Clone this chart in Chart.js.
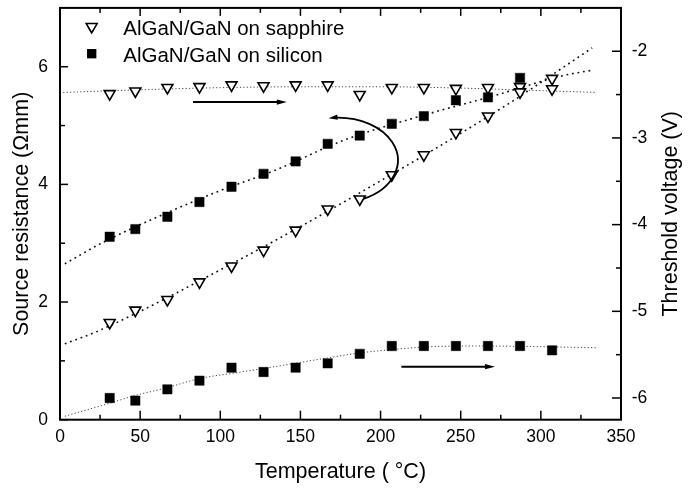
<!DOCTYPE html>
<html>
<head>
<meta charset="utf-8">
<script src="https://cdn.jsdelivr.net/npm/chart.js@4.4.1/dist/chart.umd.min.js"></script>
<style>
html,body{margin:0;padding:0;background:#fff;}
canvas{display:block;}
</style>
</head>
<body>
<canvas id="c" width="698" height="489"></canvas>
<script>
// ---- data ----
const temperatures = [31, 47, 67, 87, 107, 127, 147, 167, 187, 207, 227, 247, 267, 287, 307];
const sapphireRs   = [1.65, 1.86, 2.04, 2.34, 2.61, 2.88, 3.22, 3.58, 3.75, 4.16, 4.50, 4.88, 5.16, 5.57, 5.80];
const siliconRs    = [3.11, 3.24, 3.45, 3.70, 3.96, 4.18, 4.39, 4.69, 4.83, 5.03, 5.16, 5.43, 5.48, 5.81, null];
const sapphireVth  = [-2.49, -2.46, -2.42, -2.41, -2.39, -2.40, -2.39, -2.39, -2.50, -2.42, -2.42, -2.43, -2.42, -2.41, -2.435];
const siliconVth   = [-6.00, -6.03, -5.90, -5.80, -5.65, -5.70, -5.65, -5.60, -5.49, -5.40, -5.40, -5.40, -5.40, -5.40, -5.45];

// fitted (dotted) curves, read at a few temperatures
const sapphireRsFitT  = [3, 24, 112, 179, 278, 332];
const sapphireRsFit   = [1.29, 1.51, 2.72, 3.73, 5.34, 6.32];
const siliconRsFitT   = [3, 28, 95, 136, 177, 230, 270, 314, 332];
const siliconRsFit    = [2.65, 3.03, 3.84, 4.26, 4.75, 5.20, 5.50, 5.85, 5.94];
const sapphireVthFitT = [2, 50, 100, 150, 200, 250, 300, 335];
const sapphireVthFit  = [-2.475, -2.445, -2.42, -2.41, -2.41, -2.425, -2.455, -2.475];
const siliconVthFitT  = [3, 31, 47, 67, 86, 113, 140, 166, 187, 208, 229, 260, 290, 335];
const siliconVthFit   = [-6.21, -6.06, -5.97, -5.88, -5.78, -5.70, -5.62, -5.54, -5.48, -5.44, -5.41, -5.40, -5.405, -5.42];

// ticks
const xTicks = [0, 50, 100, 150, 200, 250, 300, 350];
const xMinorTicks = [25, 75, 125, 175, 225, 275, 325];
const rsTicks = [0, 2, 4, 6];
const rsMinorTicks = [1, 3, 5];
const vthTicks = [-6, -5, -4, -3, -2];
const vthMinorTicks = [-5.5, -4.5, -3.5, -2.5];

// text
const legendLabels = ['AlGaN/GaN on sapphire', 'AlGaN/GaN on silicon'];
const xTitle = 'Temperature ( \u00B0C)';
const rsTitle = 'Source resistance (\u03A9mm)';
const vthTitle = 'Threshold voltage (V)';

// arrows (data coordinates)
const arrowSapphireT = [83, 141.5];
const arrowSapphireV = -2.586;
const arrowSiliconT = [213, 271.4];
const arrowSiliconV = -5.638;
const curvedArrowCenter = [173.4, 4.41];   // (T, Rs)
const curvedArrowRadii = [37.4, 0.725];    // (T, Rs)

// ---- build chart ----
const FONT = "'Liberation Sans', Arial, Helvetica, sans-serif";
const pts = (xs, ys) => xs.map((x, i) => ({x: x, y: ys[i]})).filter(p => p.y !== null);

const markerTri = {
  showLine: false, pointStyle: 'triangle', pointRotation: 180, pointRadius: 6.3,
  pointBackgroundColor: '#fff', pointBorderColor: '#000', pointBorderWidth: 1.6, order: 0
};
const markerSq = {
  showLine: false, pointStyle: 'rect', pointRadius: 6.6,
  pointBackgroundColor: '#000', pointBorderColor: '#000', pointBorderWidth: 0.5, order: 0
};
const fitRs = { pointRadius: 0, borderColor: '#111', borderWidth: 1.6, borderDash: [1.8, 3.8], cubicInterpolationMode: 'monotone', fill: false, order: 1 };
const fitV  = { pointRadius: 0, borderColor: '#444', borderWidth: 1, borderDash: [1.2, 2.2], cubicInterpolationMode: 'monotone', fill: false, order: 1 };

const datasets = [
  Object.assign({label: legendLabels[0] + ' Rs', data: pts(temperatures, sapphireRs), yAxisID: 'yR'}, markerTri),
  Object.assign({label: legendLabels[1] + ' Rs', data: pts(temperatures, siliconRs), yAxisID: 'yR'}, markerSq),
  Object.assign({label: legendLabels[0] + ' Vth', data: pts(temperatures, sapphireVth), yAxisID: 'yV'}, markerTri),
  Object.assign({label: legendLabels[1] + ' Vth', data: pts(temperatures, siliconVth), yAxisID: 'yV'}, markerSq),
  Object.assign({label: 'fit1', data: pts(sapphireRsFitT, sapphireRsFit), yAxisID: 'yR'}, fitRs),
  Object.assign({label: 'fit2', data: pts(siliconRsFitT, siliconRsFit), yAxisID: 'yR'}, fitRs),
  Object.assign({label: 'fit3', data: pts(sapphireVthFitT, sapphireVthFit), yAxisID: 'yV'}, fitV),
  Object.assign({label: 'fit4', data: pts(siliconVthFitT, siliconVthFit), yAxisID: 'yV'}, fitV)
];

function zeroPad(s) { s.paddingLeft = 0; s.paddingRight = 0; s.paddingTop = 0; s.paddingBottom = 0; }

function line(ctx, x1, y1, x2, y2) { ctx.beginPath(); ctx.moveTo(x1, y1); ctx.lineTo(x2, y2); ctx.stroke(); }
function head(ctx, x, y, ang, len, hw) {
  ctx.beginPath();
  ctx.moveTo(x, y);
  ctx.lineTo(x - len * Math.cos(ang) + hw * Math.sin(ang), y - len * Math.sin(ang) - hw * Math.cos(ang));
  ctx.lineTo(x - len * Math.cos(ang) - hw * Math.sin(ang), y - len * Math.sin(ang) + hw * Math.cos(ang));
  ctx.closePath();
  ctx.fill();
}

const decor = {
  id: 'decor',
  afterDraw(chart) {
    const ctx = chart.ctx, a = chart.chartArea;
    const sx = chart.scales.x, sR = chart.scales.yR, sV = chart.scales.yV;
    ctx.save();
    ctx.strokeStyle = '#000'; ctx.fillStyle = '#000';
    // frame
    ctx.lineWidth = 2;
    ctx.strokeRect(a.left, a.top, a.right - a.left, a.bottom - a.top);
    // inward ticks
    ctx.lineWidth = 1.5;
    xTicks.forEach(v => { const p = sx.getPixelForValue(v); line(ctx, p, a.bottom, p, a.bottom - 9); line(ctx, p, a.top, p, a.top + 8); });
    xMinorTicks.forEach(v => { const p = sx.getPixelForValue(v); line(ctx, p, a.bottom, p, a.bottom - 5); line(ctx, p, a.top, p, a.top + 5); });
    rsTicks.forEach(v => { const p = sR.getPixelForValue(v); line(ctx, a.left, p, a.left + 8, p); });
    rsMinorTicks.forEach(v => { const p = sR.getPixelForValue(v); line(ctx, a.left, p, a.left + 5, p); });
    vthTicks.forEach(v => { const p = sV.getPixelForValue(v); line(ctx, a.right, p, a.right - 9, p); });
    vthMinorTicks.forEach(v => { const p = sV.getPixelForValue(v); line(ctx, a.right, p, a.right - 5, p); });

    // straight arrows
    ctx.lineWidth = 2;
    let y = sV.getPixelForValue(arrowSapphireV);
    let x1 = sx.getPixelForValue(arrowSapphireT[0]), x2 = sx.getPixelForValue(arrowSapphireT[1]);
    line(ctx, x1, y, x2 - 6, y); head(ctx, x2, y, 0, 10, 2.6);
    y = sV.getPixelForValue(arrowSiliconV);
    x1 = sx.getPixelForValue(arrowSiliconT[0]); x2 = sx.getPixelForValue(arrowSiliconT[1]);
    line(ctx, x1, y, x2 - 6, y); head(ctx, x2, y, 0, 10, 2.6);

    // curved arrow
    const cx = sx.getPixelForValue(curvedArrowCenter[0]);
    const cy = sR.getPixelForValue(curvedArrowCenter[1]);
    const rx = Math.abs(sx.getPixelForValue(curvedArrowCenter[0] + curvedArrowRadii[0]) - cx);
    const ry = Math.abs(sR.getPixelForValue(curvedArrowCenter[1] + curvedArrowRadii[1]) - cy);
    const a0 = 65 * Math.PI / 180, a1 = -92 * Math.PI / 180, aTip = -99 * Math.PI / 180;
    ctx.lineWidth = 1.8;
    ctx.beginPath(); ctx.ellipse(cx, cy, rx, ry, 0, a0, a1, true); ctx.stroke();
    const tx = cx + rx * Math.cos(aTip), ty = cy + ry * Math.sin(aTip);
    const dx = rx * Math.sin(aTip), dy = -ry * Math.cos(aTip);
    head(ctx, tx, ty, Math.atan2(dy, dx), 9, 2.6);

    // legend
    const lx = a.left + 31.7, ly1 = a.top + 18.8, ly2 = a.top + 45.8, r = 6.3;
    ctx.lineWidth = 1.6; ctx.fillStyle = '#fff';
    ctx.beginPath();
    ctx.moveTo(lx, ly1 + r);
    ctx.lineTo(lx - 0.866 * r, ly1 - 0.5 * r);
    ctx.lineTo(lx + 0.866 * r, ly1 - 0.5 * r);
    ctx.closePath(); ctx.fill(); ctx.stroke();
    ctx.fillStyle = '#000';
    const s = 6.6 * Math.SQRT1_2;
    ctx.fillRect(lx - s, ly2 - s, 2 * s, 2 * s);
    ctx.font = '20.5px ' + FONT;
    ctx.textAlign = 'left'; ctx.textBaseline = 'middle';
    ctx.fillText(legendLabels[0], a.left + 63.3, ly1 + 2.5);
    ctx.fillText(legendLabels[1], a.left + 63.3, ly2 + 2.5);

    // right axis title (reads bottom to top)
    ctx.save();
    ctx.translate(a.right + 50, (a.top + a.bottom) / 2);
    ctx.rotate(-Math.PI / 2);
    ctx.font = '21.5px ' + FONT;
    ctx.textAlign = 'center'; ctx.textBaseline = 'middle';
    ctx.fillText(vthTitle, 0, 0);
    ctx.restore();

    ctx.restore();
  }
};

new Chart(document.getElementById('c'), {
  type: 'line',
  data: { datasets: datasets },
  options: {
    responsive: false,
    animation: false,
    devicePixelRatio: 1,
    layout: { padding: { top: 4.2, left: 0, right: 0, bottom: 0 } },
    plugins: { legend: { display: false }, tooltip: { enabled: false } },
    scales: {
      x: {
        type: 'linear', position: 'bottom', min: 0, max: 350,
        grid: { display: false, drawTicks: false }, border: { display: false },
        afterBuildTicks: s => { s.ticks = xTicks.map(v => ({value: v})); },
        ticks: { color: '#000', font: { family: FONT, size: 17.5 }, padding: 7.3, maxRotation: 0, autoSkip: false },
        title: { display: true, text: xTitle, color: '#000', font: { family: FONT, size: 21.5 }, padding: { top: 0, bottom: 4.4 } },
        afterFit: s => { s.height = 69.3; zeroPad(s); }
      },
      yR: {
        type: 'linear', position: 'left', min: 0, max: 7,
        grid: { display: false, drawTicks: false }, border: { display: false },
        afterBuildTicks: s => { s.ticks = rsTicks.map(v => ({value: v})); },
        ticks: { color: '#000', font: { family: FONT, size: 17.5 }, padding: 12, autoSkip: false },
        title: { display: true, text: rsTitle, color: '#000', font: { family: FONT, size: 21.5 }, padding: { top: 9.4, bottom: 0 } },
        afterFit: s => { s.width = 60; zeroPad(s); }
      },
      yV: {
        type: 'linear', position: 'right', min: -6.25, max: -1.5,
        grid: { display: false, drawTicks: false }, border: { display: false },
        afterBuildTicks: s => { s.ticks = vthTicks.map(v => ({value: v})); },
        ticks: { color: '#000', font: { family: FONT, size: 17.5 }, padding: 10.7, autoSkip: false, callback: v => String(v) },
        title: { display: false },
        afterFit: s => { s.width = 77; zeroPad(s); }
      }
    }
  },
  plugins: [decor]
});
</script>
</body>
</html>
